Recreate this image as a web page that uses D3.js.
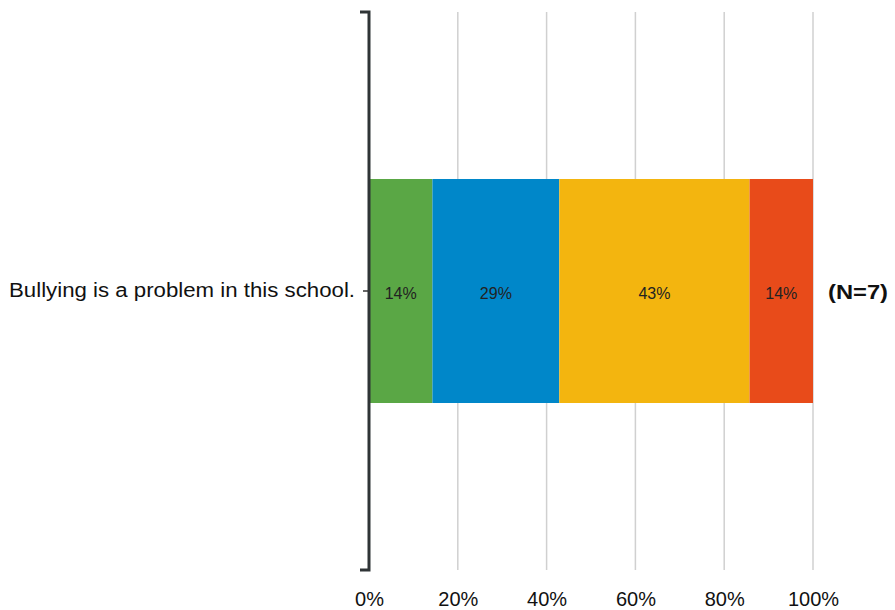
<!DOCTYPE html>
<html><head><meta charset="utf-8">
<script src="https://cdn.jsdelivr.net/npm/d3@7"></script>
<style>body{margin:0;background:#fff}svg{display:block}</style>
</head><body>
<script>
const categories = ["Bullying is a problem in this school."];
const seriesNames = ["Strongly Disagree","Disagree","Agree","Strongly Agree"];
const seriesValues = [1/7, 2/7, 3/7, 1/7];
const seriesLabels = ["14%","29%","43%","14%"];
const seriesColors = ["#5aa745","#0087c9","#f3b50f","#e84b1a"];
const tickValues = [0,0.2,0.4,0.6,0.8,1];
const nLabel = "(N=7)";

const W=895,H=610;
const FONT="Liberation Sans, Arial, sans-serif";
const svg=d3.select("body").append("svg").attr("width",W).attr("height",H);
const x=d3.scaleLinear().domain([0,1]).range([369,813]);
const y=d3.scaleBand().domain(categories).range([12,570]).paddingInner(0).paddingOuter(0.7455);

// gridlines
svg.append("g").selectAll("line").data(tickValues.slice(1)).join("line")
  .attr("x1",d=>x(d)).attr("x2",d=>x(d)).attr("y1",12).attr("y2",570)
  .attr("stroke","#d0d0d0").attr("stroke-width",1.5);

// stacked bars
let cum=0;
const segs=seriesValues.map((v,i)=>{const s={x0:cum,x1:cum+v,c:seriesColors[i],l:seriesLabels[i]};cum+=v;return s;});
const bg=svg.append("g");
bg.selectAll("rect").data(segs).join("rect")
  .attr("x",d=>x(d.x0)).attr("width",d=>x(d.x1)-x(d.x0))
  .attr("y",y(categories[0])).attr("height",y.bandwidth())
  .attr("fill",d=>d.c);
bg.selectAll("text").data(segs).join("text")
  .attr("x",d=>(x(d.x0)+x(d.x1))/2).attr("y",y(categories[0])+y.bandwidth()/2+2)
  .attr("dy","0.35em").attr("text-anchor","middle")
  .attr("font-family",FONT).attr("font-size",16)
  .attr("fill","#222").text(d=>d.l);

// y axis
const yAxis=d3.axisLeft(y).tickSize(6).tickPadding(8);
const ga=svg.append("g").attr("transform","translate(369,0)").call(yAxis);
ga.select(".domain").remove();
ga.selectAll(".tick line").attr("stroke","#333").attr("stroke-width",1.5);
ga.selectAll(".tick text").attr("font-family",FONT)
  .attr("font-size",20).attr("fill","#111").attr("textLength",346).attr("lengthAdjust","spacingAndGlyphs");
svg.append("path").attr("d","M360,12H369V570H360").attr("fill","none")
  .attr("stroke","#2f3436").attr("stroke-width",3);

// x axis labels
const xAxis=d3.axisBottom(x).tickValues(tickValues).tickFormat(d3.format(".0%")).tickSize(0).tickPadding(0);
const gx=svg.append("g").attr("transform","translate(0,606)").call(xAxis);
gx.select(".domain").remove();
gx.selectAll(".tick text").attr("font-family",FONT).attr("y",0)
  .attr("font-size",20).attr("fill","#111").attr("dy","0");

// N label
svg.append("text").attr("x",828).attr("y",y(categories[0])+y.bandwidth()/2+1).attr("dy","0.35em")
  .attr("font-family",FONT).attr("font-size",21).attr("font-weight","bold")
  .attr("fill","#111").attr("textLength",60).attr("lengthAdjust","spacingAndGlyphs").text(nLabel);
</script>
</body></html>
